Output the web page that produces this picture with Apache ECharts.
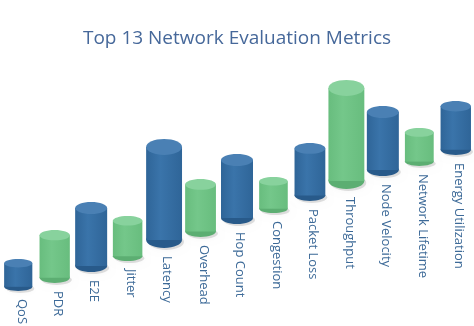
<!DOCTYPE html>
<html>
<head>
<meta charset="utf-8">
<script src="https://cdn.jsdelivr.net/npm/echarts@6/dist/echarts.min.js"></script>
<style>html,body{margin:0;padding:0;background:#fff}#c{width:474px;height:326px}</style>
</head>
<body>
<div id="c"></div>
<script>
const categories = ['QoS','PDR','E2E','Jitter','Latency','Overhead','Hop Count','Congestion','Packet Loss','Throughput','Node Velocity','Network Lifetime','Energy Utilization'];
const baseValues = [19, 27, 38, 49, 62, 73, 86, 97, 109, 121, 134, 144, 155];
const topValues  = [51, 80, 108, 94, 171, 131, 156, 133, 167, 230, 204, 182, 209];
const colorGroup = [0, 1, 0, 1, 0, 1, 0, 1, 0, 1, 0, 1, 0];

const palette = [
  {body: '#2f6598', light: '#3a74aa', top: '#4a80b4', bottom: '#285a8a'},
  {body: '#68bd7e', light: '#74c78a', top: '#88d29d', bottom: '#5cae72'}
];

const data = categories.map((c, i) => [i, baseValues[i], topValues[i], colorGroup[i]]);

const chart = echarts.init(document.getElementById('c'), null, {renderer: 'canvas'});
chart.setOption({
  animation: false,
  title: {
    text: 'Top 13 Network Evaluation Metrics',
    left: 'center', top: 24,
    textStyle: {fontFamily: 'Open Sans', fontSize: 19, fontWeight: 'normal', color: '#46689a'}
  },
  grid: {left: 0, right: 0, top: 60, bottom: 16},
  xAxis: {type: 'category', data: categories, show: false},
  yAxis: {type: 'value', min: 0, max: 250, show: false},
  series: [{
    type: 'custom',
    data: data,
    renderItem: function (params, api) {
      const i = api.value(0);
      const p0 = api.coord([i, api.value(1)]);
      const p1 = api.coord([i, api.value(2)]);
      const cx = p0[0];
      const botPx = p0[1], topPx = p1[1];
      const h = botPx - topPx;
      const W = 25 + h * 0.1;
      const rx = W / 2;
      const ry = Math.max(4.2, (W - 20) * 0.5);
      const topCy = topPx + ry, botCy = botPx - ry;
      const pal = palette[api.value(3)];
      const bodyFill = new echarts.graphic.LinearGradient(0, 0, 1, 0, [
        {offset: 0, color: pal.body},
        {offset: 0.4, color: pal.light},
        {offset: 1, color: pal.body}
      ]);
      return {
        type: 'group',
        children: [
          {type: 'ellipse', shape: {cx: cx + 2, cy: botCy + 2, rx: rx, ry: ry},
           style: {fill: 'rgba(0,0,0,0.12)', shadowBlur: 6, shadowColor: 'rgba(0,0,0,0.25)'}},
          {type: 'ellipse', shape: {cx: cx, cy: botCy, rx: rx, ry: ry}, style: {fill: pal.bottom}},
          {type: 'rect', shape: {x: cx - rx, y: topCy, width: W, height: botCy - topCy}, style: {fill: bodyFill}},
          {type: 'ellipse', shape: {cx: cx, cy: topCy, rx: rx, ry: ry}, style: {fill: pal.top}},
          {type: 'text', x: cx + 3, y: botPx + 8, rotation: -Math.PI / 2,
           style: {text: categories[i], x: 0, y: 0, align: 'left', verticalAlign: 'middle',
                   font: '13px "Open Sans"', fill: '#3d6a98'}}
        ]
      };
    }
  }]
});
</script>
</body>
</html>
